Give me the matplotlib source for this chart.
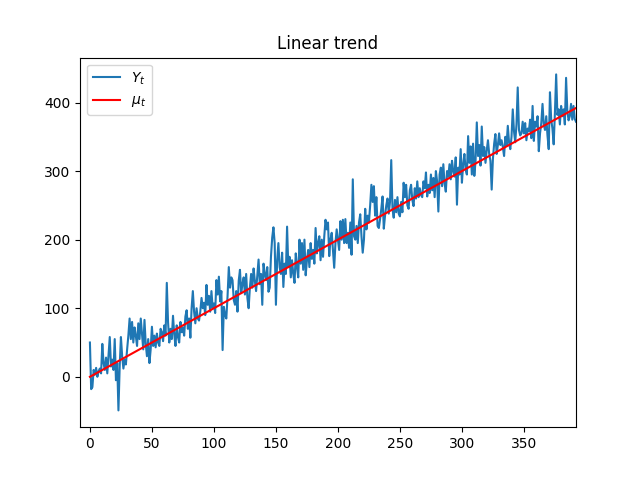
import numpy as np
import matplotlib
matplotlib.use("Agg")
import matplotlib.pyplot as plt

y_obs = [
    50, -18, -15, 10, 3, 13, 0, 8, 12, 5,
    48, 20, 10, 28, 5, 32, 58, 15, 25, 10,
    55, -5, 20, -49, 15, 58, 30, 12, 25, 18,
    40, 60, 85, 55, 80, 50, 72, 60, 45, 78,
    55, 85, 62, 40, 83, 48, 30, 55, 20, 40,
    73, 45, 60, 43, 63, 50, 45, 70, 65, 52,
    75, 60, 137, 80, 50, 70, 55, 89, 62, 45,
    75, 58, 50, 80, 65, 72, 60, 88, 97, 70,
    85, 57, 100, 125, 95, 78, 100, 85, 82, 95,
    115, 100, 108, 90, 134, 105, 118, 95, 125, 100,
    107, 93, 141, 120, 146, 110, 125, 39, 102, 90,
    85, 118, 160, 130, 145, 141, 112, 105, 125, 95,
    140, 156, 122, 135, 145, 120, 150, 115, 100, 130,
    150, 130, 158, 140, 125, 148, 171, 135, 150, 105,
    165, 150, 141, 160, 124, 130, 175, 203, 218, 195,
    105, 170, 195, 160, 150, 181, 131, 165, 150, 219,
    160, 175, 145, 170, 150, 137, 180, 160, 145, 200,
    165, 195, 156, 200, 148, 170, 185, 160, 195, 172,
    185, 165, 217, 180, 195, 205, 170, 200, 175, 205,
    229, 215, 225, 176, 200, 210, 185, 159, 195, 215,
    200, 185, 227, 200, 229, 195, 230, 195, 210, 188,
    225, 178, 288, 205, 200, 220, 195, 225, 237, 205,
    181, 200, 245, 215, 235, 225, 250, 280, 255, 278,
    235, 262, 220, 217, 230, 245, 263, 216, 235, 250,
    260, 238, 255, 316, 245, 232, 258, 240, 262, 238,
    234, 255, 240, 283, 262, 280, 250, 245, 272, 280,
    258, 249, 275, 260, 285, 262, 275, 265, 262, 285,
    275, 298, 263, 280, 268, 295, 272, 290, 262, 300,
    285, 241, 295, 305, 278, 310, 282, 270, 300, 292,
    310, 288, 315, 300, 292, 320, 251, 305, 295, 332,
    283, 310, 325, 302, 295, 351, 312, 336, 295, 340,
    293, 315, 371, 322, 338, 308, 365, 322, 335, 312,
    330, 345, 325, 315, 273, 318, 340, 354, 325, 338,
    355, 338, 345, 335, 322, 350, 338, 366, 342, 332,
    350, 390, 358, 342, 368, 422, 360, 352, 355, 372,
    355, 370, 345, 362, 358, 375, 348, 395, 344, 372,
    365, 380, 329, 355, 370, 398, 368, 360, 380, 352,
    332, 415, 375, 362, 339, 385, 441, 382, 390, 368,
    395, 380, 390, 368, 436, 388, 374, 380, 398, 375,
    395, 376, 372,
]

# trend mu_t, a straight line between its end points
mu_t = [0, 392]
mu_vals = [0, 392]

t = np.arange(len(y_obs))

fig, ax = plt.subplots(figsize=(6.4, 4.8), dpi=100)
ax.plot(t, y_obs, label=r'$Y_t$')
ax.plot(mu_t, mu_vals, color='red', label=r'$\mu_t$')
ax.set_title('Linear trend')
ax.set_xlim(-8, 392)
ax.legend(loc='upper left')
fig.savefig('out.png')
